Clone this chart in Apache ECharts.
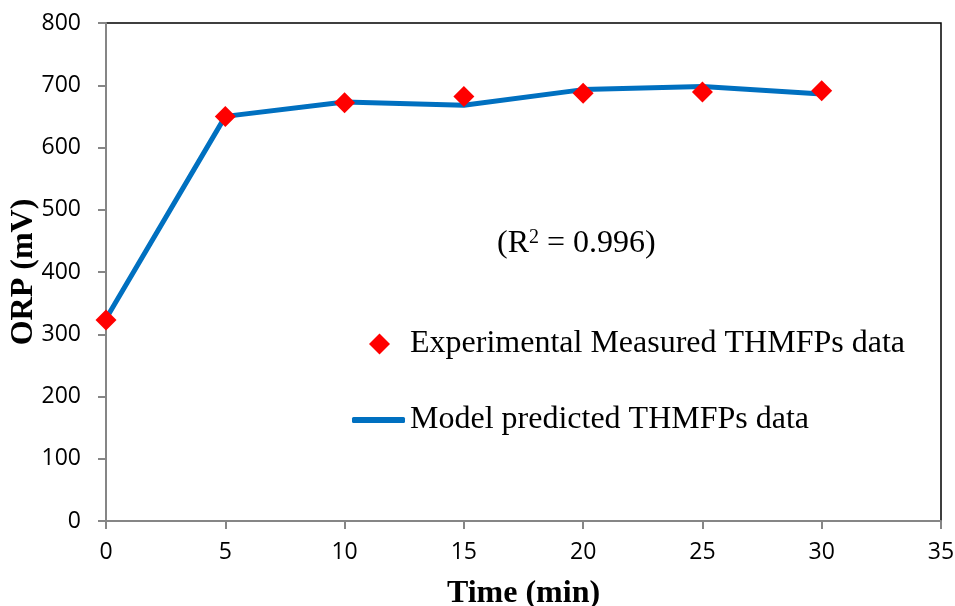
<!DOCTYPE html>
<html>
<head>
<meta charset="utf-8">
<script src="https://cdn.jsdelivr.net/npm/echarts@6/dist/echarts.min.js"></script>
<style>
  html, body { margin: 0; padding: 0; background: #fff; }
  #chart { width: 955px; height: 606px; }
</style>
</head>
<body>
<div id="chart"></div>
<script>
// Sampling times (min)
const times = [0, 5, 10, 15, 20, 25, 30];
// Measured ORP (mV)
const measured = [323, 650, 672, 682, 687, 689, 691];
// Model-predicted ORP (mV)
const predicted = [325, 650, 673, 668, 693, 698, 686];
// Axis ticks
const xTicks = [0, 5, 10, 15, 20, 25, 30, 35];
const yTicks = [0, 100, 200, 300, 400, 500, 600, 700, 800];

const nameMeasured = 'Experimental Measured THMFPs data';
const namePredicted = 'Model predicted THMFPs data';

const serif = '"Liberation Serif", "Times New Roman", serif';
const sans = '"Open Sans", "Noto Sans", sans-serif';

const chart = echarts.init(document.getElementById('chart'), null, { renderer: 'canvas' });

chart.setOption({
  animation: false,
  backgroundColor: '#ffffff',
  grid: {
    left: 106, right: 14, top: 23, bottom: 85,
    outerBoundsMode: 'none', containLabel: false,
    show: true, borderColor: '#000000', borderWidth: 1.5,
    backgroundColor: 'transparent'
  },
  xAxis: {
    type: 'value',
    min: xTicks[0], max: xTicks[xTicks.length - 1], interval: 5,
    name: 'Time (min)', nameLocation: 'middle', nameGap: 57, nameMoveOverlap: false,
    nameTextStyle: { fontFamily: serif, fontWeight: 'bold', fontSize: 32, color: '#000' },
    axisLine: { show: true, onZero: false, lineStyle: { color: '#868686', width: 2 } },
    axisTick: { show: true, length: 8, lineStyle: { color: '#868686', width: 2 } },
    axisLabel: { margin: 20, fontFamily: sans, fontSize: 23, color: '#000' },
    splitLine: { show: false }
  },
  yAxis: {
    type: 'value',
    min: yTicks[0], max: yTicks[yTicks.length - 1], interval: 100,
    name: 'ORP (mV)', nameLocation: 'middle', nameGap: 66, nameRotate: 90, nameMoveOverlap: false,
    nameTextStyle: { fontFamily: serif, fontWeight: 'bold', fontSize: 32, color: '#000' },
    axisLine: { show: true, lineStyle: { color: '#868686', width: 2 } },
    axisTick: { show: true, length: 8, lineStyle: { color: '#868686', width: 2 } },
    axisLabel: { margin: 25, fontFamily: sans, fontSize: 23, color: '#000' },
    splitLine: { show: false }
  },
  legend: [
    {
      data: [{ name: nameMeasured, icon: 'diamond' }],
      left: 369, top: 328, padding: 0,
      itemWidth: 21, itemHeight: 21,
      itemStyle: { opacity: 1 },
      textStyle: { fontFamily: serif, fontSize: 32, color: '#000', padding: [0, 0, 0, 15] },
      selectedMode: false
    },
    {
      data: [{ name: namePredicted, icon: 'roundRect' }],
      left: 352, top: 404, padding: 0,
      itemWidth: 53, itemHeight: 6,
      textStyle: { fontFamily: serif, fontSize: 32, color: '#000' },
      selectedMode: false
    }
  ],
  graphic: [
    {
      type: 'text',
      left: 497, top: 224,
      style: {
        text: '{n|(R}{s|2}{n| = 0.996)}',
        rich: {
          n: { fontFamily: serif, fontSize: 32, fill: '#000', verticalAlign: 'bottom', lineHeight: 36 },
          s: { fontFamily: serif, fontSize: 20, fill: '#000', verticalAlign: 'top', lineHeight: 22, padding: [4, 0, 0, 0] }
        }
      }
    }
  ],
  series: [
    {
      name: namePredicted,
      type: 'line',
      data: times.map((t, i) => [t, predicted[i]]),
      symbol: 'none',
      lineStyle: { color: '#0070C0', width: 5 },
      itemStyle: { color: '#0070C0' },
      z: 2
    },
    {
      name: nameMeasured,
      type: 'scatter',
      data: times.map((t, i) => [t, measured[i]]),
      symbol: 'diamond',
      symbolSize: 21,
      itemStyle: { color: '#FF0000', opacity: 1 },
      z: 3
    }
  ]
});
</script>
</body>
</html>
